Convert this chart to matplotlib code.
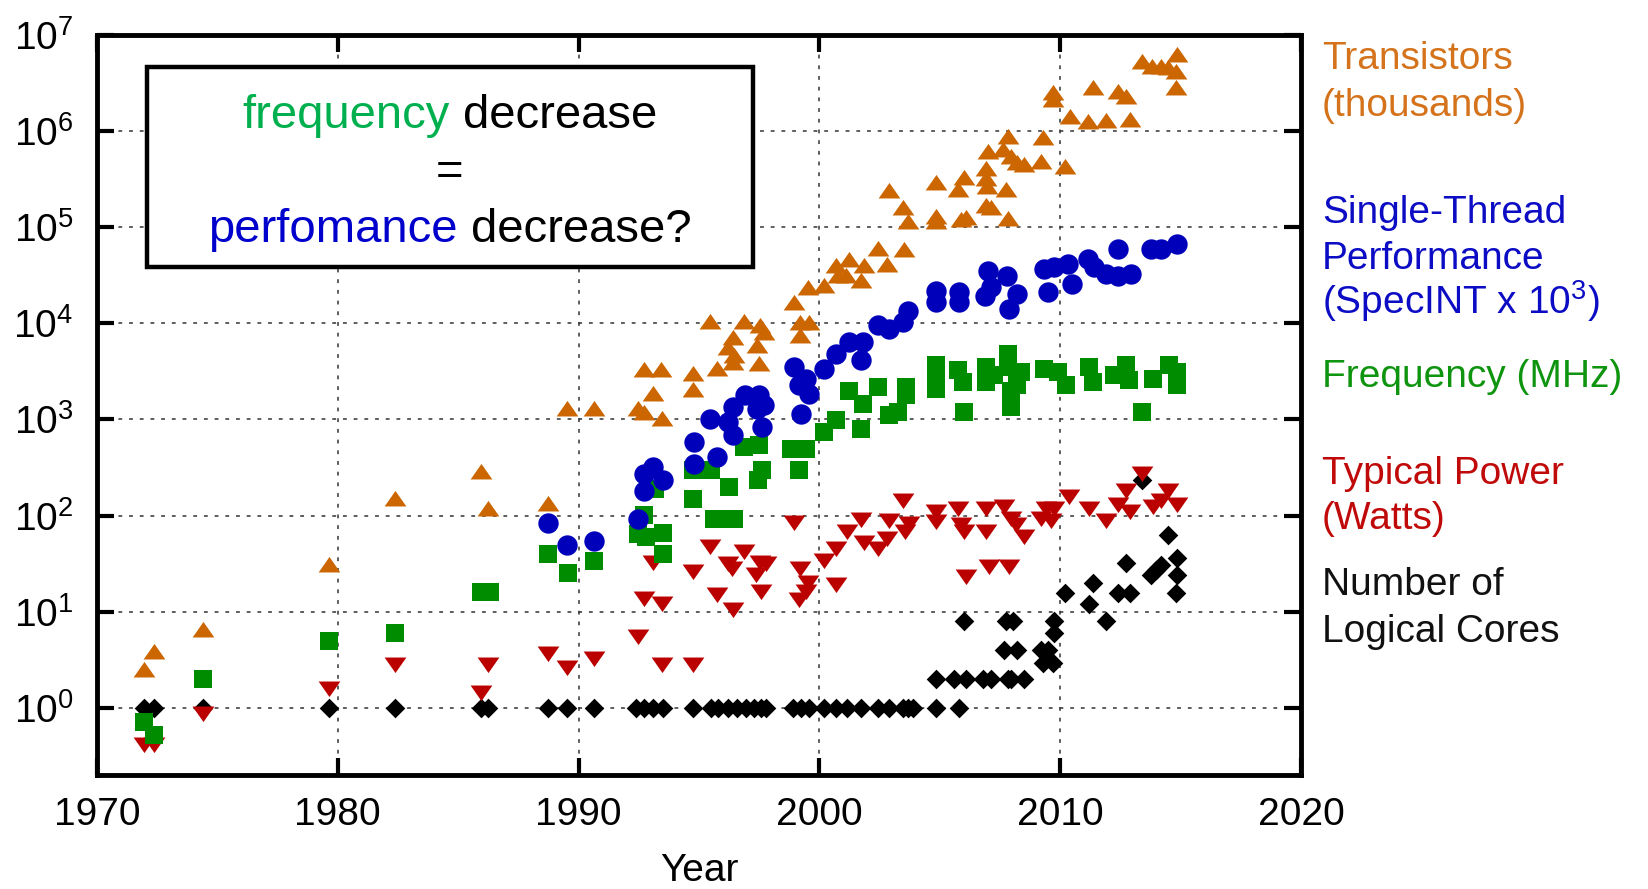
import matplotlib
matplotlib.use("Agg")
import matplotlib.pyplot as plt
from matplotlib.patches import Rectangle
from matplotlib.ticker import NullLocator

plt.rcParams['font.family'] = ['Liberation Sans', 'DejaVu Sans']
plt.rcParams['mathtext.fontset'] = 'custom'
plt.rcParams['mathtext.rm'] = 'Liberation Sans'
plt.rcParams['mathtext.it'] = 'Liberation Sans:italic'
plt.rcParams['mathtext.bf'] = 'Liberation Sans:bold'

# ---- data ----
trans_year = [1971.96, 1972.38, 1974.41, 1979.62, 1982.38, 1985.97, 1986.22, 1988.72,
              1989.52, 1990.63, 1992.45, 1992.73, 1992.73, 1993.08, 1993.42, 1993.46,
              1994.76, 1994.76, 1995.47, 1995.75, 1996.19, 1996.40, 1996.47, 1996.40,
              1996.88, 1997.41, 1997.55, 1997.69, 1997.51, 1998.93, 1999.21, 1999.58,
              1999.21, 1999.51, 2000.20, 2000.69, 2000.76, 2001.10, 2001.24, 2001.73,
              2001.87, 2002.45, 2002.83, 2002.90, 2003.46, 2003.53, 2003.69, 2004.84,
              2004.84, 2004.84, 2005.74, 2005.88, 2006.02, 2006.09, 2006.92, 2006.92,
              2006.96, 2006.92, 2006.99, 2007.13, 2007.61, 2007.75, 2007.82, 2007.85,
              2007.96, 2008.23, 2008.51, 2009.20, 2009.30, 2009.69, 2009.71, 2010.20,
              2010.42, 2011.17, 2011.35, 2011.90, 2012.39, 2012.73, 2012.91, 2013.42,
              2013.80, 2014.19, 2014.46, 2014.85, 2014.81, 2014.81]
trans_val = [2.4, 3.75, 6.3, 30, 145, 280, 114, 128,
             1260, 1260, 1240, 3200, 1150, 1780, 3200, 980,
             2870, 2000, 10000, 3240, 5420, 6880, 4450, 3800,
             10000, 5640, 9100, 7800, 3650, 15900, 9800, 9800,
             7200, 22700, 23700, 38300, 30100, 30100, 44900, 26700,
             38300, 57900, 39800, 230000, 154000, 57000, 112000, 285000,
             126000, 112000, 239000, 117000, 316000, 122000, 392000, 309000,
             259000, 161000, 598000, 154000, 622000, 239000, 857000, 119000,
             531000, 453000, 435000, 471000, 823000, 2420000, 2060000, 418000,
             1380000, 1220000, 2720000, 1250000, 2500000, 2190000, 1270000, 5140000,
             4570000, 4570000, 4390000, 6030000, 4050000, 2720000]

perf_year = [1988.72, 1989.52, 1990.65, 1992.45, 1992.73, 1992.73, 1993.08, 1993.49,
             1994.81, 1994.81, 1995.47, 1995.75, 1996.22, 1996.40, 1996.40, 1996.92,
             1997.51, 1997.71, 1997.41, 1997.64, 1998.93, 1999.17, 1999.24, 1999.44,
             1999.58, 2000.20, 2000.69, 2001.24, 2001.73, 2001.80, 2002.42, 2002.90,
             2003.46, 2003.67, 2004.84, 2004.84, 2005.81, 2005.81, 2006.88, 2006.99,
             2007.13, 2007.79, 2007.86, 2008.21, 2009.34, 2009.51, 2009.76, 2010.31,
             2010.49, 2011.17, 2011.42, 2011.90, 2012.39, 2012.41, 2012.94, 2013.77,
             2014.19, 2014.85]
perf_val = [83, 49, 55, 91, 180, 273, 320, 237,
            582, 347, 1020, 406, 940, 683, 1350, 1780,
            1780, 1430, 1290, 834, 3550, 2260, 1150, 2650,
            1850, 3370, 4820, 6370, 4180, 6370, 9500, 8770,
            10300, 13600, 21900, 16600, 21000, 16600, 19400, 35300,
            23700, 31300, 14100, 20200, 36700, 21000, 38300, 41400,
            25700, 46700, 38300, 32700, 31300, 59300, 32700, 59300,
            59300, 66800]

freq_year = [1971.96, 1972.38, 1974.41, 1979.65, 1982.38, 1985.97, 1986.33, 1988.72,
             1989.55, 1990.63, 1992.45, 1992.73, 1992.80, 1993.17, 1993.49, 1993.49,
             1994.76, 1994.76, 1995.50, 1995.64, 1996.05, 1996.47, 1996.26, 1996.88,
             1997.51, 1997.64, 1997.44, 1998.82, 1999.17, 1999.44, 2000.20, 2000.69,
             2001.24, 2001.73, 2001.80, 2002.45, 2002.90, 2003.25, 2003.60, 2003.60,
             2004.84, 2004.84, 2004.84, 2005.74, 2005.95, 2006.02, 2006.92, 2006.92,
             2007.27, 2007.82, 2007.82, 2007.96, 2007.96, 2008.23, 2008.37, 2009.34,
             2009.90, 2010.24, 2011.21, 2011.35, 2012.25, 2012.73, 2012.87, 2013.42,
             2013.84, 2014.53, 2014.87, 2014.87]
freq_val = [0.71, 0.52, 2.0, 5, 6, 16, 16, 40,
            25, 34, 65, 101, 60, 190, 66, 40,
            150, 295, 295, 91, 91, 91, 199, 517,
            537, 295, 233, 497, 295, 497, 741, 979,
            2000, 802, 1460, 2170, 1100, 1190, 2170, 1780,
            3650, 2760, 2090, 3240, 2450, 1190, 3510, 2450,
            2870, 4820, 3510, 2000, 1350, 2260, 3110, 3370,
            3110, 2260, 3510, 2450, 2870, 3650, 2550, 1190,
            2650, 3650, 3110, 2260]

power_year = [1971.96, 1972.38, 1974.41, 1979.62, 1982.38, 1985.97, 1986.22, 1988.72,
              1989.52, 1990.63, 1992.45, 1992.73, 1993.08, 1993.46, 1993.46, 1994.76,
              1994.76, 1995.47, 1995.75, 1996.19, 1996.36, 1996.40, 1996.88, 1997.37,
              1997.55, 1997.58, 1997.78, 1998.93, 1999.17, 1999.21, 1999.44, 1999.51,
              2000.20, 2000.69, 2000.69, 2001.17, 2001.73, 2001.87, 2002.42, 2002.83,
              2002.90, 2003.46, 2003.56, 2003.73, 2004.84, 2004.84, 2005.74, 2005.88,
              2006.02, 2006.09, 2006.92, 2006.92, 2007.06, 2007.65, 2007.89, 2007.96,
              2008.16, 2008.51, 2009.20, 2009.41, 2009.62, 2009.76, 2010.38, 2011.21,
              2011.90, 2012.39, 2012.73, 2012.91, 2013.42, 2013.84, 2014.19, 2014.50,
              2014.85]
power_val = [0.43, 0.43, 0.9, 1.66, 2.9, 1.5, 2.9, 3.8,
             2.7, 3.4, 5.7, 14.3, 34, 12.7, 2.9, 27,
             2.9, 49, 15.5, 33, 29, 10.8, 44, 25,
             34, 16.8, 33, 88, 13.8, 29, 16.8, 21,
             35, 20, 47, 70, 95, 55, 47, 60,
             93, 150, 71, 86, 114, 90, 123, 83,
             71, 24, 123, 71, 30.5, 128, 30.5, 97,
             83, 63, 97, 123, 93, 123, 163, 123,
             93, 134, 191, 114, 284, 128, 150, 191,
             134]

cores_year = [1971.96, 1972.38, 1974.41, 1979.65, 1982.38, 1985.97, 1986.22, 1988.72,
              1989.52, 1990.63, 1992.38, 1992.73, 1993.08, 1993.49, 1994.76, 1995.50,
              1995.80, 1996.19, 1996.58, 1996.95, 1997.30, 1997.58, 1997.78, 1998.89,
              1999.24, 1999.58, 2000.20, 2000.69, 2001.17, 2001.73, 2002.42, 2002.90,
              2003.46, 2003.67, 2003.87, 2004.84, 2005.81, 2004.84, 2005.60, 2006.09,
              2006.78, 2007.13, 2007.82, 2007.96, 2008.51, 2009.27, 2009.69, 2007.68,
              2008.23, 2009.20, 2009.48, 2009.76, 2005.99, 2007.75, 2008.03, 2009.76,
              2010.20, 2011.35, 2011.21, 2011.90, 2012.39, 2012.91, 2012.73, 2013.42,
              2013.77, 2013.98, 2014.19, 2014.50, 2014.85, 2014.85, 2014.81]
cores_val = [1, 1, 1, 1, 1, 1, 1, 1,
             1, 1, 1, 1, 1, 1, 1, 1,
             1, 1, 1, 1, 1, 1, 1, 1,
             1, 1, 1, 1, 1, 1, 1, 1,
             1, 1, 1, 1, 1, 2, 2, 2,
             2, 2, 2, 2, 2, 2.9, 2.9, 4,
             4, 4, 4, 6, 8, 8, 8, 7.9,
             15.8, 19.7, 12, 7.9, 15.8, 15.8, 31.8, 233,
             24, 27, 30.5, 63, 36, 24, 15.8]

series_labels = [
    (["Transistors", "(thousands)"], '#D4731C'),
    (["Single-Thread", "Performance", "(SpecINT x 10$^{\\mathregular{3}}$)"], '#0C0CC4'),
    (["Frequency (MHz)"], '#0E940E'),
    (["Typical Power", "(Watts)"], '#C00A0A'),
    (["Number of", "Logical Cores"], '#111111'),
]

# gnuplot style flat triangles
tri_up = [(-1, -0.55), (1, -0.55), (0, 0.88)]
tri_down = [(-1, 0.55), (1, 0.55), (0, -0.88)]

fig = plt.figure(figsize=(16.49, 8.89), dpi=100)
ax = fig.add_axes([0.0588, 0.1282, 0.7301, 0.8324])

ax.scatter(cores_year, cores_val, marker='D', s=100, color='black', linewidths=0, zorder=3)
ax.scatter(power_year, power_val, marker=tri_down, s=245, color='#BB0000', linewidths=0, zorder=4)
ax.scatter(freq_year, freq_val, marker='s', s=175, color='#008C00', linewidths=0, zorder=5)
ax.scatter(perf_year, perf_val, marker='o', s=215, color='#0000BB', linewidths=0, zorder=6)
ax.scatter(trans_year, trans_val, marker=tri_up, s=245, color='#CC6600', linewidths=0, zorder=7)

ax.set_yscale('log')
ax.set_xlim(1970, 2020)
ax.set_ylim(10 ** -0.7, 1e7)
ax.set_xticks(range(1970, 2021, 10))
ax.set_yticks([10.0 ** k for k in range(0, 8)])
ax.set_yticklabels(['$\\mathregular{10^{%d}}$' % k for k in range(0, 8)])
ax.yaxis.set_minor_locator(NullLocator())

ax.tick_params(axis='both', which='major', direction='in', length=12, width=3,
               top=True, right=True, labelsize=28)
ax.tick_params(axis='x', pad=16)
ax.tick_params(axis='y', pad=17)
for sp in ax.spines.values():
    sp.set_linewidth(3.5)

ax.grid(True, which='major', color='#333333', linestyle=(0, (2.5, 4.5)), linewidth=1.1)
ax.set_axisbelow(True)
ax.set_xlabel('Year', fontsize=28, labelpad=14)

# message box
ax.add_patch(Rectangle((0.0415, 0.6865), 0.5033, 0.2703, transform=ax.transAxes,
                       facecolor='white', edgecolor='black', linewidth=3.2, zorder=8))

renderer = fig.canvas.get_renderer()
ax_w = ax.get_window_extent(renderer).width
xc = 0.0415 + 0.5033 / 2


def two_tone(y, first, first_color, rest):
    full = ax.text(xc, y, first + rest, fontsize=34, ha='center', va='baseline',
                   transform=ax.transAxes)
    bb = full.get_window_extent(renderer)
    full.remove()
    x0 = xc - bb.width / 2 / ax_w
    x1 = xc + bb.width / 2 / ax_w
    ax.text(x0, y, first, color=first_color, fontsize=34, ha='left', va='baseline',
            transform=ax.transAxes, zorder=9)
    ax.text(x1, y, rest.strip(), color='black', fontsize=34, ha='right', va='baseline',
            transform=ax.transAxes, zorder=9)


two_tone(0.8743, 'frequency', '#00B04F', ' decrease')
ax.text(xc, 0.7973, '=', fontsize=34, ha='center', va='baseline',
        transform=ax.transAxes, zorder=9)
two_tone(0.7203, 'perfomance', '#0000CC', ' decrease?')

# labels on the right
baselines = [[69, 116], [223, 269, 314], [387], [484, 529], [595, 642]]
for (lines, col), ys in zip(series_labels, baselines):
    for line, ypx in zip(lines, ys):
        fig.text(1322 / 1649, 1 - ypx / 889, line, color=col, fontsize=28,
                 ha='left', va='baseline')

fig.savefig('out.png', dpi=100)
